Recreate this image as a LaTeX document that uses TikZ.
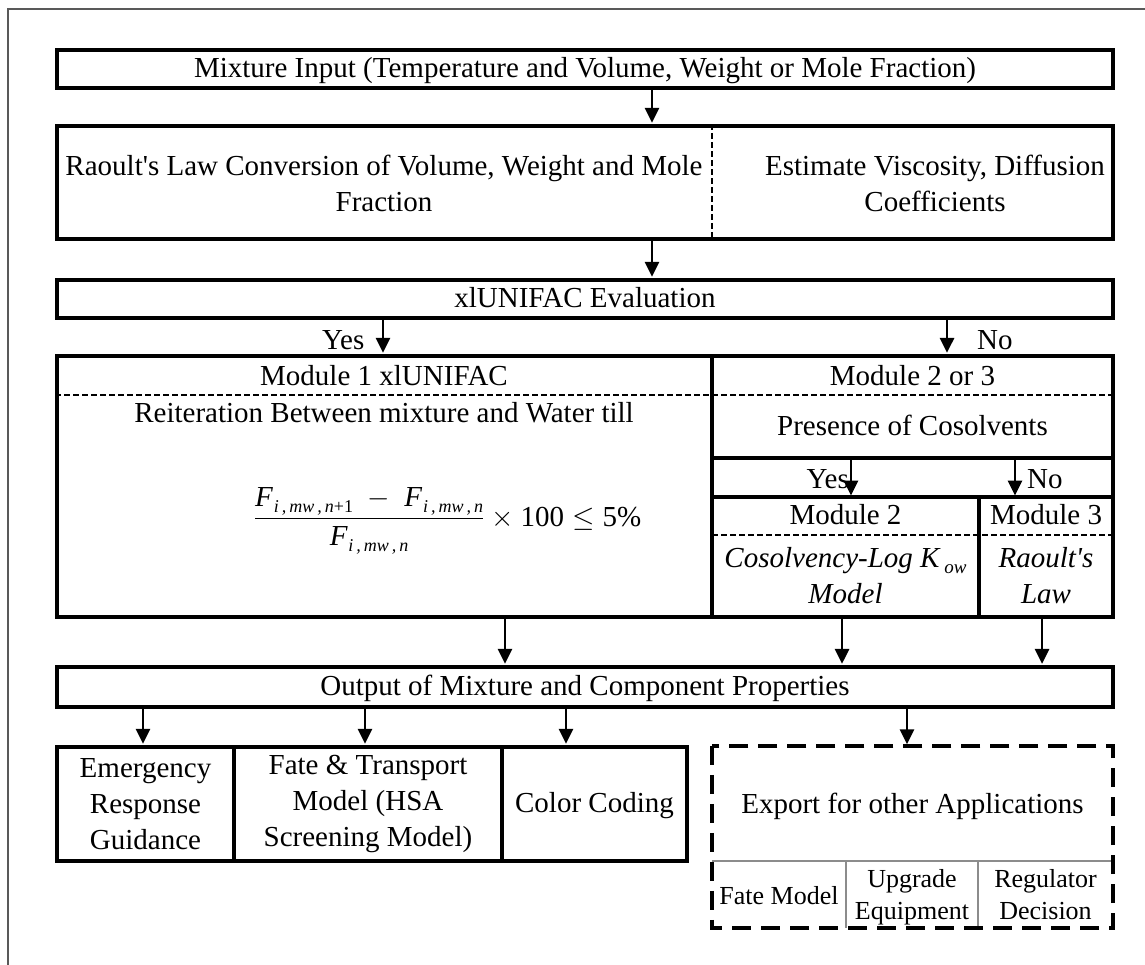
\documentclass[tikz,border=0pt]{standalone}
\usepackage{graphicx}
\usepackage{amsmath}
\usepackage{fontspec}
\setmainfont{Liberation Serif}
\usetikzlibrary{arrows.meta,calc}
\newcommand{\Fsub}[1]{\mbox{\itshape F\kern0.5pt\raisebox{-3pt}{\fontsize{9}{9}\selectfont #1}}}
\newcommand{\apo}{\textquotesingle}
\begin{document}
\begin{tikzpicture}[x=1pt,y=-1pt,
  font=\fontsize{29}{36}\selectfont,
  box/.style={draw, line width=3.2pt, inner sep=0pt, align=center},
  onebox/.style={box, text height=21pt, text depth=4pt},
  txt/.style={inner sep=0pt, align=center},
  arr/.style={line width=2.8pt, -{Triangle[length=15pt,width=14pt]}, shorten >=1.5pt},
  sub/.style={line width=3.2pt},
  subdash/.style={line width=2pt, dash pattern=on 6pt off 3pt},
  expdash/.style={draw, line width=4pt, dash pattern=on 19pt off 10pt},
  grayline/.style={line width=2.2pt, draw=black!45},
  frame/.style={line width=1.3pt, draw=black!65},
  smalltxt/.style={font=\fontsize{26}{32}\selectfont}]

\useasboundingbox (0,0) rectangle (1145,965);
\draw[frame] (8,965) -- (8,9) -- (1145,9);

% helper coordinates
\coordinate (d1) at (712,0);
\coordinate (d2) at (979,0);
\coordinate (d3) at (846,0);
\coordinate (d4) at (978,0);
\coordinate (h1) at (0,395);
\coordinate (h2) at (0,458);
\coordinate (h3) at (0,497);
\coordinate (h4) at (0,535);
\coordinate (h5) at (0,861);
\coordinate (a1) at (652,0);
\coordinate (ay) at (383,0);
\coordinate (an) at (947,0);
\coordinate (a2y) at (851,0);
\coordinate (a2n) at (1015,0);
\coordinate (b1) at (505,0);
\coordinate (b2) at (842,0);
\coordinate (b3) at (1042,0);
\coordinate (c1) at (143,0);
\coordinate (c2) at (365,0);
\coordinate (c3) at (566,0);
\coordinate (c4) at (907,0);

% boxes
\node[onebox, minimum width=1056pt, minimum height=38pt] (in) at (585,69) {Mixture Input (Temperature and Volume, Weight or Mole Fraction)};
\node[box, minimum width=1056pt, minimum height=113pt] (conv) at (585,182.5) {};
\draw[subdash] (conv.north -| d1) -- (conv.south -| d1);
\node[txt] (convL) at (384,183) {Raoult\apo s Law Conversion of Volume, Weight and Mole\\Fraction};
\node[txt] (convR) at (935,183) {Estimate Viscosity, Diffusion\\Coefficients};

\node[onebox, minimum width=1056pt, minimum height=38pt] (eval) at (585,299) {xlUNIFAC Evaluation};
\node[txt, anchor=base west] (yes1) at (322,349) {Yes};
\node[txt, anchor=base west] (no1) at (977,349) {No};

\node[box, minimum width=1056pt, minimum height=261pt] (big) at (585,486.5) {};
\draw[subdash] (big.west |- h1) -- (big.east |- h1);
\draw[sub] (big.north -| d1) -- (big.south -| d1);
\draw[sub] (d1 |- h2) -- (big.east |- h2);
\draw[sub] (d1 |- h3) -- (big.east |- h3);
\draw[sub] (d2 |- h3) -- (big.south -| d2);
\draw[subdash] (d1 |- h4) -- (big.east |- h4);

\node[txt, anchor=base] (m1) at (384,385) {Module 1 xlUNIFAC};
\node[txt, anchor=base] (m23) at (912.5,385) {Module 2 or 3};
\node[txt, anchor=base] (reit) at (384,422) {Reiteration Between mixture and Water till};
\node[txt, anchor=base] (formula) at (447,526) {\scalebox{2}{\fontsize{14.5}{18}\selectfont$\dfrac{\Fsub{i\,,\,mw\,,\,n\upshape+1}\;-\;\Fsub{i\,,\,mw\,,\,n}}{\Fsub{i\,,\,mw\,,\,n}}\times\text{100}\le\text{5\%}$}};
\node[txt, anchor=base] (pres) at (912.5,435) {Presence of Cosolvents};
\node[txt, anchor=base east] (yes2) at (849,488) {Yes};
\node[txt, anchor=base west] (no2) at (1027,488) {No};
\node[txt, anchor=base] (m2) at (845.5,524) {Module 2};
\node[txt, anchor=base] (m3) at (1046,524) {Module 3};
\node[txt, anchor=base] (cos) at (845.5,567) {\itshape Cosolvency-Log K\,\raisebox{-6pt}{\fontsize{19}{19}\selectfont ow}};
\node[txt, anchor=base] (model) at (845.5,603) {\itshape Model};
\node[txt, anchor=base] (raoult) at (1046,567) {\itshape Raoult\apo s};
\node[txt, anchor=base] (law) at (1046,603) {\itshape Law};

\node[onebox, minimum width=1056pt, minimum height=40pt] (out) at (585,687) {Output of Mixture and Component Properties};

\node[box, minimum width=177pt, minimum height=114pt] (em) at (145.5,804) {Emergency\\Response\\Guidance};
\node[box, minimum width=268pt, minimum height=114pt] (fate) at (368,804) {Fate \& Transport\\Model (HSA\\Screening Model)};
\node[onebox, minimum width=185pt, minimum height=114pt] (color) at (594.5,804) {Color Coding};

\node[inner sep=0pt, minimum width=401pt, minimum height=182pt] (exp) at (912.5,837) {};
\draw[grayline] (exp.west |- h5) -- (exp.east |- h5);
\draw[grayline] (d3 |- h5) -- (exp.south -| d3);
\draw[grayline] (d4 |- h5) -- (exp.south -| d4);
\draw[expdash] (exp.north west) rectangle (exp.south east);
\node[txt, anchor=base] (exptxt) at (912.5,813) {Export for other Applications};
\node[txt, anchor=base, smalltxt] (fm) at (779,904) {Fate Model};
\node[txt, anchor=base, smalltxt] (up) at (912,887) {Upgrade};
\node[txt, anchor=base, smalltxt] (eq) at (912,919) {Equipment};
\node[txt, anchor=base, smalltxt] (reg) at (1045.5,887) {Regulator};
\node[txt, anchor=base, smalltxt] (dec) at (1045.5,919) {Decision};

% arrows
\draw[arr] (in.south -| a1) -- (conv.north -| a1);
\draw[arr] (conv.south -| a1) -- (eval.north -| a1);
\draw[arr] (eval.south -| ay) -- (big.north -| ay);
\draw[arr] (eval.south -| an) -- (big.north -| an);
\draw[arr] (a2y |- h2) -- (a2y |- h3);
\draw[arr] (a2n |- h2) -- (a2n |- h3);
\draw[arr] (big.south -| b1) -- (out.north -| b1);
\draw[arr] (big.south -| b2) -- (out.north -| b2);
\draw[arr] (big.south -| b3) -- (out.north -| b3);
\draw[arr] (out.south -| c1) -- (em.north -| c1);
\draw[arr] (out.south -| c2) -- (fate.north -| c2);
\draw[arr] (out.south -| c3) -- (color.north -| c3);
\draw[arr] (out.south -| c4) -- (exp.north -| c4);
\end{tikzpicture}
\end{document}
